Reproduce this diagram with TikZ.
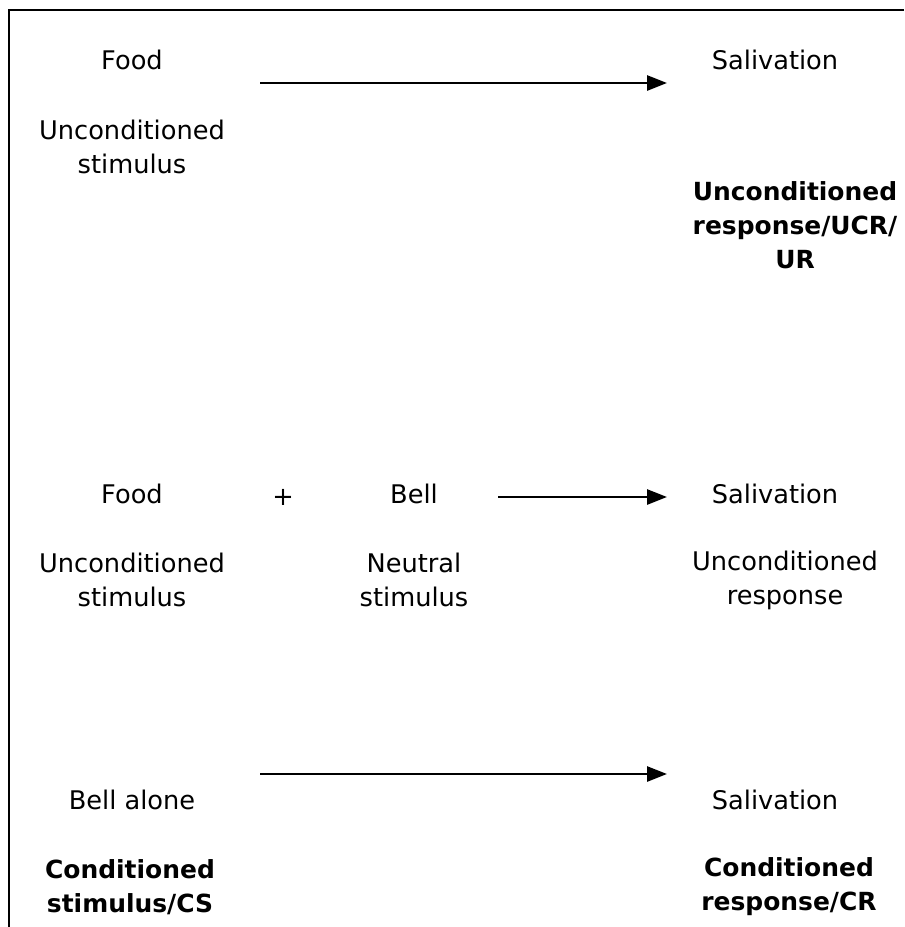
\documentclass[tikz,border=0pt]{standalone}
\usepackage{fontspec}
\setmainfont{DejaVu Sans}
\usepackage{tikz}
\usetikzlibrary{arrows.meta,positioning}

\begin{document}
\begin{tikzpicture}[x=0.02cm,y=-0.02cm]
\tikzstyle{every node}+=[inner sep=0pt,align=center,font=\fontsize{14.6}{19.4}\selectfont]
\tikzstyle{bold}=[font=\fontsize{14.2}{19.4}\selectfont\bfseries]
\tikzstyle{link}=[line width=0.055cm,-{Triangle[length=0.4cm,width=0.3cm]}]
\useasboundingbox (0,0) rectangle (904,927);
\draw [line width=0.055cm] (904,10) -- (9,10) -- (9,927);
% first row
\draw (132,60) node (food1) {Food};
\draw (132,147) node (us1) {Unconditioned\\stimulus};
\draw (775,60) node (sal1) {Salivation};
\draw (795,225) node [bold] (ucr) {Unconditioned\\response/UCR/\\UR};
\coordinate (a1s) at (260,83);
\coordinate (a1e) at (667,83);
\draw [link] (a1s) -- (a1e);
% second row
\draw (132,494) node (food2) {Food};
\draw (283,497) node (plus) {+};
\draw (414,494) node (bell) {Bell};
\draw (775,494) node (sal2) {Salivation};
\draw (132,580) node (us2) {Unconditioned\\stimulus};
\draw (414,580) node (ns) {Neutral\\stimulus};
\draw (785,580) node (ur) {Unconditioned\\response};
\coordinate (a2s) at (498,497);
\coordinate (a2e) at (667,497);
\draw [link] (a2s) -- (a2e);
% third row
\draw (132,800) node (bellal) {Bell alone};
\draw (775,800) node (sal3) {Salivation};
\draw (130,887) node [bold] (cs) {Conditioned\\stimulus/CS};
\draw (789,887) node [bold] (cr) {Conditioned\\response/CR};
\coordinate (a3s) at (260,774);
\coordinate (a3e) at (667,774);
\draw [link] (a3s) -- (a3e);
\end{tikzpicture}
\end{document}
